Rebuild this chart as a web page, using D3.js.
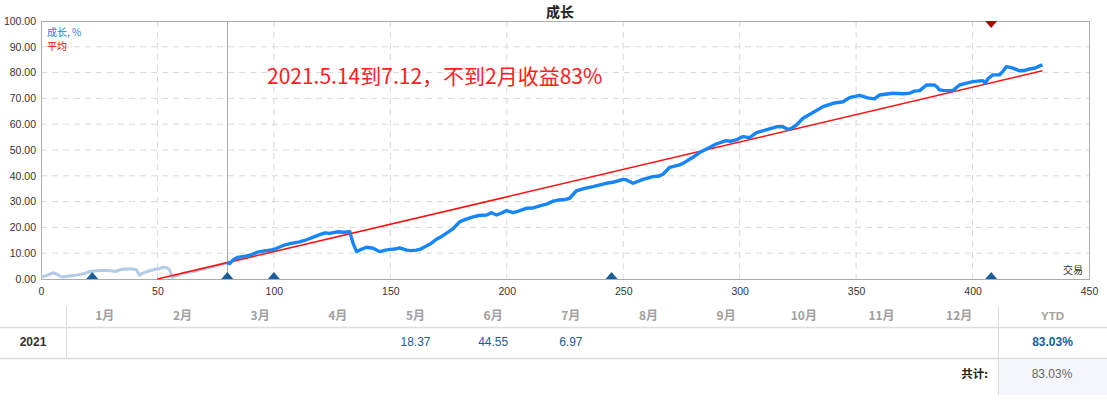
<!DOCTYPE html>
<html><head><meta charset="utf-8">
<script src="https://cdn.jsdelivr.net/npm/d3@7/dist/d3.min.js"></script>
<style>
html,body{margin:0;padding:0;background:#fff;}
svg{display:block;}
</style></head>
<body><svg id="c" width="1107" height="402"></svg>
<script>
// ---- data ----
const xTicks = [0,50,100,150,200,250,300,350,400,450];
const yTicks = [0,10,20,30,40,50,60,70,80,90,100];
const preGrowth = [[0,0.9],[2,1.2],[4,2.0],[5.5,2.4],[7,1.8],[8.5,0.9],[10,0.9],[13,1.3],[16,1.6],[19,2.2],[21,2.9],[24,3.2],[27,3.4],[30,3.2],[32,2.9],[34,3.6],[36,3.9],[39,3.9],[41,3.6],[42.2,1.5],[44,2.4],[46,3.0],[49,3.8],[51,4.0],[52.5,4.6],[54,4.4],[55.2,3.5],[56.5,0.6],[58,1.2],[61,2.2],[65,2.8],[70,4.0],[75,5.0],[80,6.3]];
const growth = [[80,6.3],[81,6.0],[82.5,7.4],[84.5,8.4],[87,8.7],[90,9.3],[93,10.4],[96,10.9],[99,11.3],[101,11.8],[104,13.0],[107,13.7],[111,14.4],[114,15.2],[117.5,16.4],[120,17.3],[122,17.9],[124,17.7],[127.5,18.3],[130,18.1],[132.6,18.3],[134,13.8],[135.5,10.6],[137.5,11.5],[139.8,12.3],[142.6,11.9],[145.5,10.6],[148,11.2],[150,11.5],[152,11.6],[154,12.1],[157,11.2],[159,11.0],[161.2,11.2],[163,11.6],[165.5,12.8],[167.5,13.8],[169.8,15.4],[172,16.5],[174,17.7],[177,19.5],[179.8,22.2],[182,23.0],[185.5,24.1],[188,24.6],[191.3,24.8],[193.4,25.7],[195.6,24.8],[197.5,25.5],[199.9,26.5],[202.7,25.7],[205,26.3],[208.4,27.4],[211,27.5],[214.2,28.3],[217,29.0],[219.9,30.2],[222,30.6],[225,30.8],[227,31.3],[229.9,34.2],[233,35.0],[237,35.8],[240,36.5],[242.8,37.1],[246,37.6],[250,38.6],[251.4,38.4],[254.2,37.1],[258.5,38.6],[262.8,39.7],[265,39.8],[267.1,40.6],[270,43.3],[274.2,44.2],[276,45.0],[278.5,46.4],[280.5,47.5],[282.8,49.0],[285.6,50.3],[289.9,52.3],[292,53.0],[294.2,53.6],[296,53.4],[298.5,53.9],[301.4,55.2],[304.3,54.8],[307.2,56.7],[311.4,57.8],[315.7,59.0],[318.6,59.0],[320,58.3],[321.5,58.0],[324.4,59.7],[327.2,62.3],[331.5,64.5],[335.8,66.8],[340.1,68.1],[344.4,68.7],[347.2,70.3],[351.5,71.2],[355,70.2],[357.9,69.8],[360,71.3],[365.8,72.0],[370,71.8],[373,72.0],[375,72.8],[377.3,73.0],[380.2,75.2],[383.7,75.2],[385,74.2],[385.8,73.3],[388,73.0],[391.5,73.0],[394.4,75.2],[397,75.8],[400.1,76.5],[404.4,76.9],[405.5,75.9],[406.5,77.5],[408.7,79.1],[411.6,79.1],[413,80.5],[414.5,82.3],[417,81.8],[420.2,80.7],[422,80.8],[424.5,81.4],[427,81.8],[428.8,82.6],[430,83.0]];
const average = [[50,0],[430,80.7]];
const startMark = 80;
const tradeMarks = [22,80,100,245,408];
const exitMarks = [408];
const months = ["1月","2月","3月","4月","5月","6月","7月","8月","9月","10月","11月","12月"];
const year = "2021";
const monthValues = [null,null,null,null,"18.37","44.55","6.97",null,null,null,null,null];
const ytd = "83.03%";
const total = "83.03%";
const title = "成长";
const note = "2021.5.14到7.12，不到2月收益83%";

// ---- chart ----
const svg = d3.select("#c");
const L=41,R=1089,T=21,B=279;
const x = d3.scaleLinear().domain([0,450]).range([L,R]);
const y = d3.scaleLinear().domain([0,100]).range([B,T]);
const cjk = "'Noto Sans CJK SC','Noto Sans',sans-serif";
const num = "'Liberation Sans',Arial,sans-serif";

// grid
const g = svg.append("g");
g.selectAll(".hg").data(yTicks.filter(d=>d>0&&d<100)).join("line")
  .attr("x1",L).attr("x2",R).attr("y1",d=>y(d)).attr("y2",d=>y(d))
  .attr("stroke","#d9d9d9").attr("stroke-dasharray","6,5");
g.selectAll(".vg").data(xTicks.filter(d=>d>0&&d<450)).join("line")
  .attr("y1",T).attr("y2",B).attr("x1",d=>x(d)).attr("x2",d=>x(d))
  .attr("stroke","#d9d9d9").attr("stroke-dasharray","6,5");
g.append("line").attr("x1",Math.round(x(startMark))+0.5).attr("x2",Math.round(x(startMark))+0.5)
  .attr("y1",T).attr("y2",B).attr("stroke","#aaa");
g.append("rect").attr("x",L+0.5).attr("y",T+0.5).attr("width",R-L).attr("height",B-T)
  .attr("fill","none").attr("stroke","#aaa");

// axes
const xa = svg.append("g").attr("transform",`translate(0,${B})`)
  .call(d3.axisBottom(x).tickValues(xTicks).tickSize(0).tickPadding(9));
xa.select(".domain").remove();
xa.selectAll("text").attr("font-family",num).attr("font-size","10.5px").attr("fill","#333");
const ya = svg.append("g").attr("transform",`translate(${L},0)`)
  .call(d3.axisLeft(y).tickValues(yTicks).tickFormat(d3.format(".2f")).tickSize(0).tickPadding(5));
ya.select(".domain").remove();
ya.selectAll("text").attr("font-family",num).attr("font-size","10.5px").attr("fill","#333");

// lines
const line = d3.line().x(d=>x(d[0])).y(d=>y(d[1]));
svg.append("path").datum(preGrowth).attr("d",line).attr("fill","none")
  .attr("stroke","#b4cbe8").attr("stroke-width",3).attr("stroke-linejoin","round");
svg.append("path").datum(average).attr("d",line).attr("fill","none")
  .attr("stroke","#ff1010").attr("stroke-width",1.6);
svg.append("path").datum(growth).attr("d",line).attr("fill","none")
  .attr("stroke","#1685f5").attr("stroke-width",3.4).attr("stroke-linejoin","round");

// markers
svg.selectAll(".tm").data(tradeMarks).join("path")
  .attr("d",d=>`M${x(d)-6},${B} L${x(d)+6},${B} L${x(d)},${B-7} Z`).attr("fill","#1a5d98");
svg.selectAll(".em").data(exitMarks).join("path")
  .attr("d",d=>`M${x(d)-6},${T} L${x(d)+6},${T} L${x(d)},${T+7} Z`).attr("fill","#b00000");

// texts
svg.append("text").attr("x",560).attr("y",17).attr("text-anchor","middle")
  .attr("font-family",cjk).attr("font-weight","bold").attr("font-size","14px").attr("fill","#222").text(title);
svg.append("text").attr("x",47).attr("y",36).attr("font-family",cjk).attr("font-size","10px").attr("fill","#2a7fe0").text("成长, %");
svg.append("text").attr("x",47).attr("y",50).attr("font-family",cjk).attr("font-size","10px").attr("fill","#e00000").text("平均");
svg.append("text").attr("x",1083).attr("y",274).attr("text-anchor","end").attr("font-family",cjk).attr("font-size","10px").attr("fill","#333").text("交易");
svg.append("text").attr("x",267).attr("y",84).attr("font-family",cjk).attr("font-size","21px").attr("fill","#ff2020").text(note);

// table
const tX0=66, tX1=998;
const cw=(tX1-tX0)/12;
const hY=316, l1=327, rY=342, l2=358;
const tg = svg.append("g");
tg.append("line").attr("x1",0).attr("x2",1107).attr("y1",l1+0.5).attr("y2",l1+0.5).attr("stroke","#ddd").attr("stroke-width",1.5);
tg.append("line").attr("x1",0).attr("x2",1107).attr("y1",l2+0.5).attr("y2",l2+0.5).attr("stroke","#ddd").attr("stroke-width",1.5);
tg.append("line").attr("x1",tX0+0.5).attr("x2",tX0+0.5).attr("y1",306).attr("y2",l2).attr("stroke","#ddd");
tg.append("rect").attr("x",tX1).attr("y",l2+1).attr("width",1107-tX1).attr("height",36).attr("fill","#f4f6fb");
tg.append("line").attr("x1",tX1+0.5).attr("x2",tX1+0.5).attr("y1",306).attr("y2",395).attr("stroke","#ddd");
tg.selectAll(".mh").data(months).join("text")
  .attr("x",(d,i)=>tX0+cw*(i+0.5)).attr("y",hY).attr("dy","0.35em").attr("text-anchor","middle")
  .attr("font-family",cjk).attr("font-weight","bold").attr("font-size","12px").attr("fill","#a0a0a0").text(d=>d);
tg.append("text").attr("x",(tX1+1107)/2).attr("y",hY).attr("dy","0.35em").attr("text-anchor","middle")
  .attr("font-family",num).attr("font-weight","bold").attr("font-size","11.5px").attr("fill","#a0a0a0").text("YTD");
tg.append("text").attr("x",33).attr("y",rY).attr("dy","0.35em").attr("text-anchor","middle")
  .attr("font-family",num).attr("font-weight","bold").attr("font-size","12px").attr("fill","#333").text(year);
tg.selectAll(".mv").data(monthValues).join("text")
  .attr("x",(d,i)=>tX0+cw*(i+0.5)).attr("y",rY).attr("dy","0.35em").attr("text-anchor","middle")
  .attr("font-family",num).attr("font-size","12px").attr("fill","#1b5c9c").text(d=>d==null?"":d);
tg.append("text").attr("x",(tX1+1107)/2).attr("y",rY).attr("dy","0.35em").attr("text-anchor","middle")
  .attr("font-family",num).attr("font-weight","bold").attr("font-size","12px").attr("fill","#1b5c9c").text(ytd);
tg.append("text").attr("x",988).attr("y",374).attr("dy","0.35em").attr("text-anchor","end")
  .attr("font-family",cjk).attr("font-weight","bold").attr("font-size","11.5px").attr("fill","#222").text("共计:");
tg.append("text").attr("x",1052).attr("y",374).attr("dy","0.35em").attr("text-anchor","middle")
  .attr("font-family",num).attr("font-size","12px").attr("fill","#666").text(total);
</script></body></html>
